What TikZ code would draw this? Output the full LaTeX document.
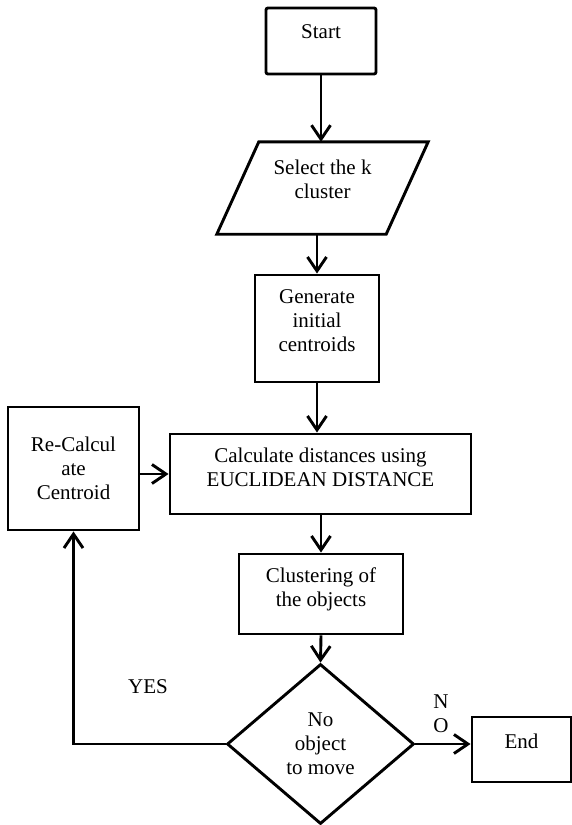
\documentclass[tikz,border=0pt]{standalone}
\usepackage{fontspec}
\setmainfont{Liberation Serif}
\usetikzlibrary{arrows.meta,shapes.geometric,calc}

\tikzset{
  box/.style={draw, line width=2.9pt, inner sep=0pt, align=center,
              font=\fontsize{21}{24}\selectfont},
  plain/.style={inner sep=0pt, align=center,
                font=\fontsize{21}{24}\selectfont},
  flow/.style={line width=2.9pt, -{Straight Barb[length=14pt,width=19pt,line width=2.9pt]}},
}

\begin{document}
\begin{tikzpicture}[x=1pt, y=-1pt]
  \useasboundingbox (0,0) rectangle (572,825);

  % process steps
  \node[box, rounded corners=2pt, minimum width=110pt, minimum height=66pt]
    (start) at (321,41) {Start\\[-6pt]};
  \node[plain, minimum width=211pt, minimum height=92pt]
    (sel) at (322.5,188) {Select the k\\cluster\\[-6pt]};
  \draw[line width=2.9pt, line join=miter]
    (sel.south west) -- ($(sel.north west)+(42,0)$) -- (sel.north east)
    -- ($(sel.south east)+(-42,0)$) -- cycle;
  \node[box, minimum width=124pt, minimum height=107pt]
    (gen) at (317,328.5) {Generate\\initial\\centroids\\[-8pt]};
  \node[box, minimum width=301pt, minimum height=80pt]
    (calc) at (320.5,474) {Calculate distances using\\EUCLIDEAN DISTANCE\\[-10pt]};
  \node[box, minimum width=131pt, minimum height=123pt]
    (recalc) at (73.5,468.5) {Re-Calcul\\ate\\Centroid};
  \node[box, minimum width=164pt, minimum height=80pt]
    (clus) at (321,594) {Clustering of\\the objects\\[-10pt]};
  \node[box, diamond, minimum width=187pt, minimum height=160pt]
    (dia) at (320.5,744) {No\\object\\to move};
  \node[box, minimum width=99pt, minimum height=65pt]
    (end) at (521.5,749.5) {End\\[-8pt]};

  % branch labels
  \node[plain] (yes) at (148,687) {YES};
  \node[plain] (no) at (441,714) {N\\O};

  % connectors
  \draw[flow] (start.south) -- (start.south |- sel.north);
  \draw[flow] (gen.north |- sel.south) -- (gen.north);
  \draw[flow] (gen.south) -- (gen.south |- calc.north);
  \draw[flow] (clus.north |- calc.south) -- (clus.north);
  \draw[flow] (clus.south) -- (dia.north);
  \draw[flow] (recalc.east |- calc.west) -- (calc.west);
  \draw[flow] (dia.west) -- (dia.west -| recalc.south) -- (recalc.south);
  \draw[flow] (dia.east) -- (dia.east -| end.west);
\end{tikzpicture}
\end{document}
